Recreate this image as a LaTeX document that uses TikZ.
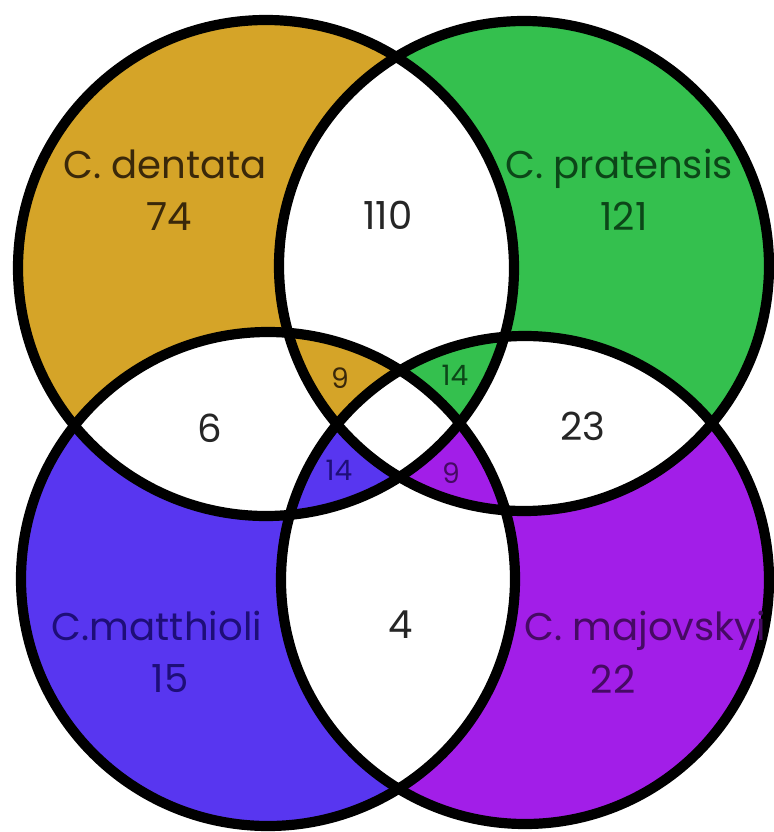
\documentclass[tikz,border=0pt]{standalone}
\usepackage{fontspec}
\setmainfont{Poppins}
\usepackage{tikz}
\usetikzlibrary{positioning}

\definecolor{dentgold}{RGB}{213,164,40}
\definecolor{pratgreen}{RGB}{52,192,78}
\definecolor{mattblue}{RGB}{88,54,240}
\definecolor{majopurple}{RGB}{162,30,232}
\definecolor{dentdark}{RGB}{58,40,10}
\definecolor{pratdark}{RGB}{12,70,24}
\definecolor{mattdark}{RGB}{30,14,120}
\definecolor{majodark}{RGB}{70,10,100}

\tikzset{
  ring/.style={draw=black, line width=5.8pt},
  lbl/.style={anchor=base, inner sep=0pt, font=\fontsize{22}{24}\selectfont},
  tiny/.style={anchor=base, inner sep=0pt, font=\fontsize{16}{18}\selectfont},
}

\begin{document}
\begin{tikzpicture}[x=0.02cm, y=-0.02cm]
  \useasboundingbox (0,0) rectangle (774,832);
  \coordinate (dent) at (266,268);
  \coordinate (prat) at (524,266);
  \coordinate (matt) at (268,579);
  \coordinate (majo) at (525,580);

  % single sets
  \fill[dentgold]   (dent) circle (248);
  \fill[pratgreen]  (prat) circle (245);
  \fill[mattblue]   (matt) circle (247);
  \fill[majopurple] (majo) circle (244);

  % pairs -> white
  \foreach \a/\ra/\b/\rb in {dent/248/prat/245, dent/248/matt/247,
                            dent/248/majo/244, prat/245/matt/247,
                            prat/245/majo/244, matt/247/majo/244}{
    \begin{scope}
      \clip (\a) circle (\ra);
      \fill[white] (\b) circle (\rb);
    \end{scope}
  }

  % triples
  \foreach \a/\ra/\b/\rb/\c/\rc/\col in {dent/248/prat/245/matt/247/dentgold,
                                         dent/248/prat/245/majo/244/pratgreen,
                                         dent/248/matt/247/majo/244/mattblue,
                                         prat/245/matt/247/majo/244/majopurple}{
    \begin{scope}
      \clip (\a) circle (\ra);
      \clip (\b) circle (\rb);
      \fill[\col] (\c) circle (\rc);
    \end{scope}
  }

  % all four -> white
  \begin{scope}
    \clip (dent) circle (248);
    \clip (prat) circle (245);
    \clip (matt) circle (247);
    \fill[white] (majo) circle (244);
  \end{scope}

  \draw[ring] (dent) circle (248);
  \draw[ring] (prat) circle (245);
  \draw[ring] (matt) circle (247);
  \draw[ring] (majo) circle (244);

  % labels
  \node[lbl, text=dentdark] (ldent) at (165,178) {C. dentata};
  \node[lbl, text=dentdark] (n74)   at (169,230) {74};
  \node[lbl, text=pratdark] (lprat) at (619,178) {C. pratensis};
  \node[lbl, text=pratdark] (n121)  at (624,230) {121};
  \node[lbl, text=mattdark] (lmatt) at (157,640) {C.matthioli};
  \node[lbl, text=mattdark] (n15)   at (170,692) {15};
  \node[lbl, text=majodark] (lmajo) at (645,640) {C. majovskyi};
  \node[lbl, text=majodark] (n22)   at (613,693) {22};

  \node[lbl, text=black!85] (n110) at (388,229) {110};
  \node[lbl, text=black!85] (n6)   at (210,442) {6};
  \node[lbl, text=black!85] (n23)  at (583,440) {23};
  \node[lbl, text=black!85] (n4)   at (401,638) {4};

  \node[tiny, text=dentdark] (n9a)  at (340,388) {9};
  \node[tiny, text=pratdark] (n14a) at (455,385) {14};
  \node[tiny, text=mattdark] (n14b) at (339,480) {14};
  \node[tiny, text=majodark] (n9b)  at (451,483) {9};
\end{tikzpicture}
\end{document}
